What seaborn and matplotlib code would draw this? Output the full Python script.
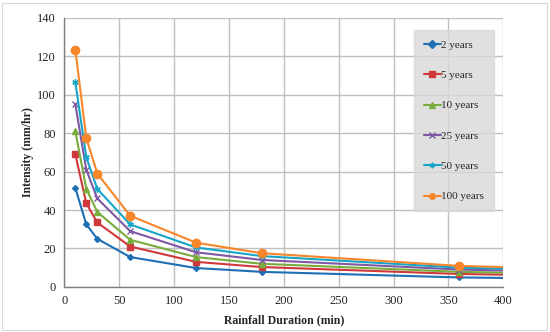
import matplotlib
matplotlib.use("Agg")
import matplotlib.pyplot as plt
import seaborn as sns
import pandas as pd

durations = [10, 20, 30, 60, 120, 180, 360, 720]
periods = ["2 years", "5 years", "10 years", "25 years", "50 years", "100 years"]

y2 = [51.5, 32.5, 25.0, 15.5, 9.8, 7.8, 4.9, 2.6]
y5 = [69.0, 43.5, 33.5, 21.0, 13.0, 10.3, 6.7, 3.5]
y10 = [81.0, 51.0, 39.0, 24.5, 15.5, 12.0, 7.8, 4.1]
y25 = [95.0, 61.0, 46.0, 29.0, 18.0, 14.0, 9.0, 4.7]
y50 = [106.5, 67.5, 51.0, 32.5, 20.5, 16.0, 10.0, 5.2]
y100 = [123.5, 77.5, 59.0, 37.0, 23.0, 17.5, 10.9, 5.6]

series = [y2, y5, y10, y25, y50, y100]

colors = ["#1F6FB5", "#D0393B", "#78AC3C", "#7E58A3", "#16A5C6", "#F7862A"]
markers = ["D", "s", "^", "x", (6, 2, 0), "o"]
msizes = [3, 4.5, 4.5, 4.5, 4.5, 6]

sns.set_style("white")
plt.rcParams["font.family"] = ["Liberation Serif", "DejaVu Serif"]

fig = plt.figure(figsize=(5.5, 3.32), dpi=100)
ax = fig.add_axes([0.117, 0.136, 0.798, 0.81])

for name, vals, c, m, ms in zip(periods, series, colors, markers, msizes):
    df = pd.DataFrame({"Duration": durations, "Intensity": vals})
    sns.lineplot(
        data=df,
        x="Duration",
        y="Intensity",
        color=c,
        marker=m,
        markersize=ms,
        markeredgecolor=c,
        markeredgewidth=1.0,
        linewidth=1.5,
        label=name,
        ax=ax,
    )

ax.set_xlim(0, 400)
ax.set_ylim(0, 140)
ax.set_xticks(range(0, 401, 50))
ax.set_yticks(range(0, 141, 20))
ax.grid(True, color="#BFBFBF", linewidth=1.0)
ax.set_axisbelow(True)
for s in ["top", "right"]:
    ax.spines[s].set_visible(False)
for s in ["left", "bottom"]:
    ax.spines[s].set_color("#7F7F7F")
    ax.spines[s].set_linewidth(1.0)
ax.tick_params(axis="both", labelsize=9, length=0, pad=6)

ax.set_xlabel("Rainfall Duration (min)", fontsize=8.5, fontweight="bold", labelpad=5)
ax.set_ylabel("Intensity (mm/hr)", fontsize=8.5, fontweight="bold", labelpad=2)

handles, labels = ax.get_legend_handles_labels()
leg = ax.legend(
    handles, labels,
    loc="upper left",
    bbox_to_anchor=(0.797, 0.955),
    frameon=True,
    fontsize=8,
    labelspacing=1.85,
    handlelength=1.5,
    handletextpad=0.05,
    borderpad=0.9,
    borderaxespad=0,
    fancybox=False,
)
leg.get_frame().set_facecolor("#D9D9D9")
leg.get_frame().set_edgecolor("#D9D9D9")
for h in leg.legend_handles:
    h.set_markersize(4)

fig.patches.append(plt.Rectangle((0.004, 0.006), 0.99, 0.985, transform=fig.transFigure,
                                 fill=False, edgecolor="#D9D9D9", linewidth=0.8))

plt.savefig("out.png", dpi=100)
plt.close()
